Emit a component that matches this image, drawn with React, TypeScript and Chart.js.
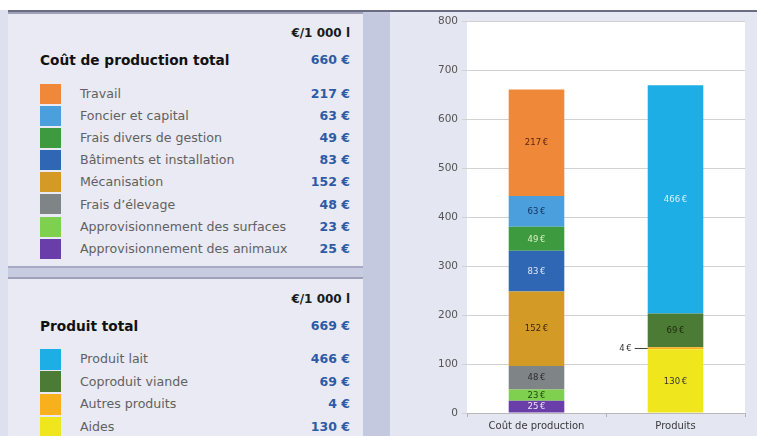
import React, { useEffect, useRef } from "react";
import { Chart, registerables } from "chart.js";

Chart.register(...registerables);

// ---- Data ----
const unitLabel = "€/1 000 l";
const xCategories = ["Coût de production", "Produits"];

const costTitle = "Coût de production total";
const costLabels = [
  "Travail",
  "Foncier et capital",
  "Frais divers de gestion",
  "Bâtiments et installation",
  "Mécanisation",
  "Frais d’élevage",
  "Approvisionnement des surfaces",
  "Approvisionnement des animaux",
];
const costValues = [217, 63, 49, 83, 152, 48, 23, 25];
const costColors = ["#f0883a", "#4a9fdc", "#3e9a3e", "#2f67b4", "#d39b25", "#7f8487", "#80d04f", "#6a3ea8"];
const costLabelColors = ["#5a2408", "#14305a", "#d8f2c4", "#dbe7ff", "#3a2800", "#2e2e2e", "#1c4a0c", "#eee4ff"];

const productTitle = "Produit total";
const productLabels = ["Produit lait", "Coproduit viande", "Autres produits", "Aides"];
const productValues = [466, 69, 4, 130];
const productColors = ["#1eaee6", "#4b7b35", "#f8b11c", "#f0e61e"];
const productLabelColors = ["#dcf2ff", "#1d2a0c", "#333333", "#333333"];

const yMin = 0;
const yMax = 800;
const yStep = 100;

const sum = (a: number[]) => a.reduce((s, v) => s + v, 0);
const euro = (v: number) => `${v} €`;

const FONT = "'DejaVu Sans', sans-serif";

const bgPlugin = {
  id: "plotBg",
  beforeDraw(chart: any) {
    const { ctx, chartArea } = chart;
    ctx.save();
    ctx.fillStyle = "#ffffff";
    ctx.fillRect(chartArea.left, chartArea.top, chartArea.right - chartArea.left, chartArea.bottom - chartArea.top);
    ctx.restore();
  },
};

const labelPlugin = {
  id: "segLabels",
  afterDatasetsDraw(chart: any) {
    const ctx = chart.ctx;
    ctx.save();
    ctx.font = `8.5px ${FONT}`;
    ctx.textBaseline = "middle";
    chart.data.datasets.forEach((ds: any, di: number) => {
      const meta = chart.getDatasetMeta(di);
      meta.data.forEach((el: any, i: number) => {
        const v = ds.data[i];
        if (v == null) return;
        const p = el.getProps(["x", "y", "base", "width"], true);
        const h = Math.abs(p.base - p.y);
        const cy = (p.y + p.base) / 2;
        const txt = euro(v).replace(" ", "\u202f");
        if (h < 8) {
          const left = p.x - p.width / 2;
          ctx.strokeStyle = "#444";
          ctx.lineWidth = 1;
          ctx.beginPath();
          ctx.moveTo(left - 13, Math.round(cy) + 0.5);
          ctx.lineTo(left, Math.round(cy) + 0.5);
          ctx.stroke();
          ctx.fillStyle = "#333";
          ctx.textAlign = "right";
          ctx.fillText(txt, left - 16, cy);
        } else {
          ctx.fillStyle = ds.labelColor;
          ctx.textAlign = "center";
          ctx.fillText(txt, p.x, cy + 0.5);
        }
      });
    });
    ctx.restore();
  },
};

function ChartPanel() {
  const ref = useRef<HTMLCanvasElement | null>(null);
  useEffect(() => {
    if (!ref.current) return;
    const datasets: any[] = [];
    for (let i = costValues.length - 1; i >= 0; i--) {
      datasets.push({
        label: costLabels[i],
        data: [costValues[i], null],
        backgroundColor: costColors[i],
        labelColor: costLabelColors[i],
        stack: "s",
        barPercentage: 0.4,
        categoryPercentage: 1,
      });
    }
    for (let i = productValues.length - 1; i >= 0; i--) {
      datasets.push({
        label: productLabels[i],
        data: [null, productValues[i]],
        backgroundColor: productColors[i],
        labelColor: productLabelColors[i],
        stack: "s",
        barPercentage: 0.4,
        categoryPercentage: 1,
      });
    }
    const chart = new Chart(ref.current, {
      type: "bar",
      data: { labels: xCategories, datasets },
      plugins: [bgPlugin, labelPlugin],
      options: {
        animation: false,
        responsive: false,
        layout: { padding: { left: 0, right: 12, top: 21, bottom: 0 } },
        plugins: { legend: { display: false }, tooltip: { enabled: false } },
        scales: {
          x: {
            stacked: true,
            grid: { display: true, drawOnChartArea: false, drawTicks: true, tickLength: 4, color: "#b3b3b3" },
            border: { display: true, color: "#b8b8b8" },
            ticks: { color: "#3a3a3a", font: { family: FONT, size: 10 }, padding: 3, maxRotation: 0 },
            afterFit(s: any) {
              s.height = 23;
            },
          },
          y: {
            stacked: true,
            min: yMin,
            max: yMax,
            ticks: { stepSize: yStep, color: "#555", font: { family: FONT, size: 10.5 }, padding: 4 },
            grid: { color: "#d2d2d2", tickLength: 5 },
            border: { display: false },
            afterFit(s: any) {
              s.width = 77;
            },
          },
        },
      } as any,
    });
    return () => chart.destroy();
  }, []);
  return (
    <canvas
      ref={ref}
      width={367}
      height={436}
      style={{ position: "absolute", left: 390, top: 0, width: 367, height: 436, display: "block" }}
    />
  );
}

function Table(props: {
  top: number;
  height: number;
  title: string;
  labels: string[];
  values: number[];
  colors: string[];
  unitY: number;
  titleY: number;
  rowY0: number;
  rowH: number;
}) {
  const { top, height, title, labels, values, colors, unitY, titleY, rowY0, rowH } = props;
  return (
    <div
      style={{
        position: "absolute",
        left: 8,
        top,
        width: 355,
        height,
        background: "#e9eaf3",
        borderTop: "2px solid #9ea1b8",
        borderBottom: "2px solid #a7aac0",
        boxSizing: "border-box",
      }}
    >
      <div
        style={{
          position: "absolute",
          right: 13,
          top: unitY - top - 8,
          lineHeight: "16px",
          fontSize: 12,
          fontWeight: "bold",
          color: "#1a1a1a",
        }}
      >
        {unitLabel}
      </div>
      <div
        style={{
          position: "absolute",
          left: 32,
          top: titleY - top - 9,
          lineHeight: "18px",
          fontSize: 13.7,
          fontWeight: "bold",
          color: "#111",
        }}
      >
        {title}
      </div>
      <div
        style={{
          position: "absolute",
          right: 13,
          top: titleY - top - 9,
          lineHeight: "18px",
          fontSize: 12.5,
          fontWeight: "bold",
          color: "#2c5ba6",
        }}
      >
        {euro(sum(values))}
      </div>
      {labels.map((lab, i) => {
        const cy = rowY0 + i * rowH - top;
        return (
          <React.Fragment key={lab}>
            <div
              style={{
                position: "absolute",
                left: 32,
                top: Math.round(cy - rowH / 2) + 0.5,
                width: 21,
                height: rowH - 1.5,
                background: colors[i],
              }}
            />
            <div
              style={{
                position: "absolute",
                left: 72,
                top: cy - 8,
                lineHeight: "16px",
                fontSize: 12.6,
                color: "#616161",
                whiteSpace: "nowrap",
              }}
            >
              {lab}
            </div>
            <div
              style={{
                position: "absolute",
                right: 13,
                top: cy - 8,
                lineHeight: "16px",
                fontSize: 12.5,
                fontWeight: "bold",
                color: "#2c5ba6",
              }}
            >
              {euro(values[i])}
            </div>
          </React.Fragment>
        );
      })}
    </div>
  );
}

export default function App() {
  return (
    <div
      style={{
        position: "fixed",
        left: 0,
        top: 0,
        width: 757,
        height: 436,
        overflow: "hidden",
        background: "#dde0ee",
        fontFamily: FONT,
      }}
    >
      <div style={{ position: "absolute", left: 0, top: 0, width: 757, height: 10, background: "#ffffff" }} />
      <div style={{ position: "absolute", left: 8, top: 10, width: 749, height: 2, background: "#6a6d82" }} />
      <div style={{ position: "absolute", left: 363, top: 12, width: 27, height: 424, background: "#c5c9df" }} />
      <div style={{ position: "absolute", left: 8, top: 268, width: 355, height: 9, background: "#c8cce0" }} />
      <div style={{ position: "absolute", left: 390, top: 12, width: 367, height: 424, background: "#e4e6f2" }} />
      <Table
        top={12}
        height={256}
        title={costTitle}
        labels={costLabels}
        values={costValues}
        colors={costColors}
        unitY={31}
        titleY={58}
        rowY0={92}
        rowH={22.1}
      />
      <Table
        top={277}
        height={170}
        title={productTitle}
        labels={productLabels}
        values={productValues}
        colors={productColors}
        unitY={297}
        titleY={324}
        rowY0={357}
        rowH={22.7}
      />
      <ChartPanel />
    </div>
  );
}
